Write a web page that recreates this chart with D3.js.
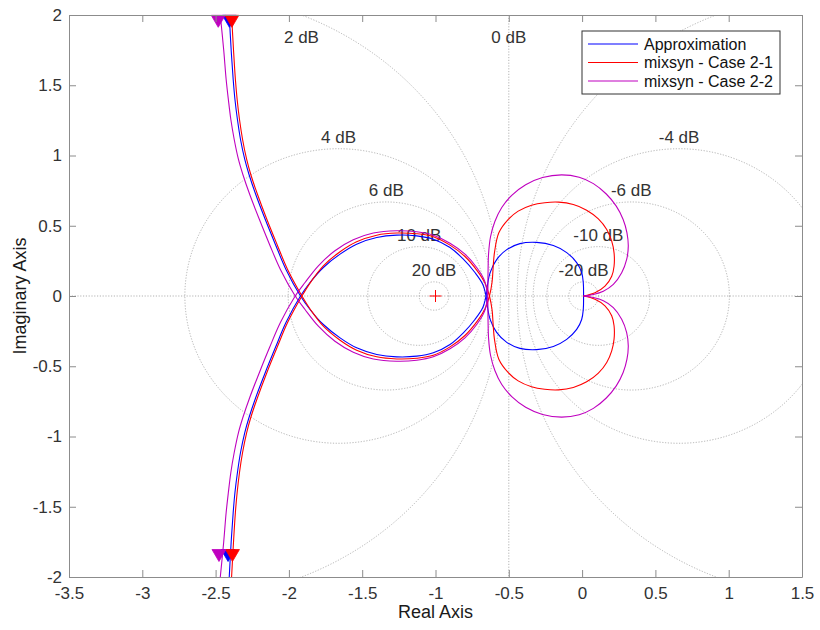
<!DOCTYPE html>
<html>
<head>
<meta charset="utf-8">
<script src="https://cdn.jsdelivr.net/npm/d3@7"></script>
<style>
  body { margin: 0; background: #fff; }
  text { font-family: Helvetica, Arial, "Liberation Sans", sans-serif; }
</style>
</head>
<body>
<div id="chart"></div>
<script>
// Nyquist branches (Re, Im), traced from the top-left asymptote down to the origin.
// The conjugate branch (negative frequencies) is drawn as the mirror image.
const approxBranch = [
  [-2.407, 2.0], [-2.394, 1.754], [-2.380, 1.541], [-2.368, 1.399], [-2.351, 1.256],
  [-2.330, 1.114], [-2.301, 0.972], [-2.272, 0.865], [-2.226, 0.722], [-2.161, 0.544],
  [-2.092, 0.367], [-2.020, 0.189], [-1.921, 0.0],
  [-1.856, -0.096], [-1.765, -0.203], [-1.651, -0.298], [-1.538, -0.369], [-1.401, -0.416],
  [-1.265, -0.433], [-1.128, -0.428], [-1.015, -0.404], [-0.901, -0.345], [-0.810, -0.262],
  [-0.731, -0.167], [-0.678, -0.084], [-0.655, 0.0], [-0.645, 0.080], [-0.628, 0.165],
  [-0.583, 0.259], [-0.514, 0.330], [-0.424, 0.373], [-0.310, 0.382], [-0.196, 0.359],
  [-0.105, 0.309], [-0.037, 0.238], [-0.003, 0.167], [0.008, 0.096], [0.010, 0.0]
];
const case21Branch = [
  [-2.391, 2.0], [-2.378, 1.754], [-2.365, 1.541], [-2.353, 1.399], [-2.337, 1.256],
  [-2.316, 1.114], [-2.288, 0.972], [-2.260, 0.865], [-2.214, 0.722], [-2.150, 0.544],
  [-2.081, 0.367], [-2.009, 0.189], [-1.911, 0.0],
  [-1.850, -0.101], [-1.765, -0.215], [-1.651, -0.315], [-1.538, -0.386], [-1.401, -0.433],
  [-1.265, -0.448], [-1.128, -0.443], [-1.015, -0.422], [-0.901, -0.362], [-0.799, -0.281],
  [-0.715, -0.179], [-0.662, -0.091], [-0.632, 0.0], [-0.614, 0.100], [-0.607, 0.200],
  [-0.598, 0.307], [-0.568, 0.450], [-0.505, 0.544], [-0.436, 0.604], [-0.345, 0.646],
  [-0.255, 0.664], [-0.160, 0.668], [-0.060, 0.651], [0.031, 0.611], [0.111, 0.549],
  [0.168, 0.473], [0.202, 0.390], [0.218, 0.307], [0.218, 0.212], [0.202, 0.141],
  [0.156, 0.070], [0.088, 0.023], [0.010, 0.0]
];
const case22Branch = [
  [-2.468, 2.0], [-2.445, 1.754], [-2.428, 1.541], [-2.413, 1.399], [-2.396, 1.256],
  [-2.373, 1.114], [-2.344, 0.972], [-2.314, 0.865], [-2.267, 0.722], [-2.201, 0.544],
  [-2.132, 0.367], [-2.058, 0.189], [-1.957, 0.0],
  [-1.890, -0.096], [-1.799, -0.215], [-1.686, -0.322], [-1.561, -0.400], [-1.424, -0.448],
  [-1.265, -0.464], [-1.128, -0.457], [-1.015, -0.433], [-0.901, -0.376], [-0.799, -0.298],
  [-0.719, -0.203], [-0.665, -0.108], [-0.645, 0.0], [-0.642, 0.150], [-0.638, 0.300],
  [-0.625, 0.420], [-0.595, 0.530], [-0.548, 0.630], [-0.478, 0.718], [-0.385, 0.792],
  [-0.270, 0.843], [-0.140, 0.862], [-0.020, 0.845], [0.077, 0.800], [0.165, 0.726],
  [0.233, 0.640], [0.280, 0.545], [0.306, 0.450], [0.315, 0.355], [0.304, 0.260],
  [0.270, 0.165], [0.213, 0.082], [0.145, 0.034], [0.077, 0.011], [0.010, 0.0]
];

const seriesNames = ["Approximation", "mixsyn - Case 2-1", "mixsyn - Case 2-2"];
const seriesColors = ["#0000ff", "#ff0000", "#bf00bf"];
const seriesBranches = [approxBranch, case21Branch, case22Branch];

// Direction arrows (one on each branch)
const arrowTop = [[-2.406, 1.955], [-2.389, 1.955], [-2.482, 1.955]];
const arrowBottom = [[-2.415, -1.847], [-2.385, -1.847], [-2.477, -1.847]];

// Constant closed-loop magnitude contours (M-circles), in dB
const gridDb = [-20, -10, -6, -4, -2, 0, 2, 4, 6, 10, 20];
// Contours whose label is shown (the -2 dB label sits under the legend)
const labelledDb = [-20, -10, -6, -4, 0, 2, 4, 6, 10, 20];

const xTicks = [-3.5, -3, -2.5, -2, -1.5, -1, -0.5, 0, 0.5, 1, 1.5];
const yTicks = [-2, -1.5, -1, -0.5, 0, 0.5, 1, 1.5, 2];

const W = 820, H = 630;
const plot = { left: 69, right: 802, top: 15, bottom: 577 };

const x = d3.scaleLinear().domain([-3.5, 1.5]).range([plot.left, plot.right]);
const y = d3.scaleLinear().domain([-2, 2]).range([plot.bottom, plot.top]);

const svg = d3.select("#chart").append("svg")
  .attr("width", W).attr("height", H)
  .style("display", "block");

svg.append("defs").append("clipPath").attr("id", "plotClip")
  .append("rect")
  .attr("x", plot.left).attr("y", plot.top)
  .attr("width", plot.right - plot.left).attr("height", plot.bottom - plot.top);

// ---- M-circle grid ----
const gridG = svg.append("g").attr("clip-path", "url(#plotClip)")
  .attr("fill", "none").attr("stroke", "#a0a0a0")
  .attr("stroke-width", 0.8).attr("stroke-dasharray", "1.2,1.6");

gridG.append("line")
  .attr("x1", plot.left).attr("x2", plot.right)
  .attr("y1", y(0)).attr("y2", y(0));

const circles = gridDb.map(db => {
  const M = Math.pow(10, db / 20);
  if (db === 0) return { db, line: true, c: -0.5, r: Infinity };
  const M2 = M * M;
  return { db, line: false, c: -M2 / (M2 - 1), r: Math.abs(M / (M2 - 1)) };
});

circles.forEach(d => {
  if (d.line) {
    gridG.append("line").attr("x1", x(d.c)).attr("x2", x(d.c))
      .attr("y1", plot.top).attr("y2", plot.bottom);
  } else {
    gridG.append("ellipse")
      .attr("cx", x(d.c)).attr("cy", y(0))
      .attr("rx", x(d.c + d.r) - x(d.c))
      .attr("ry", y(0) - y(d.r));
  }
});

// ---- Critical point ----
svg.append("path")
  .attr("d", `M${x(-1) - 6},${y(0)}H${x(-1) + 6}M${x(-1)},${y(0) - 6}V${y(0) + 6}`)
  .attr("stroke", "#ff0000").attr("stroke-width", 1).attr("fill", "none");

// ---- Grid labels ----
const yMax = y.domain()[1];
const labelG = svg.append("g").attr("font-size", 17).attr("fill", "#333")
  .attr("text-anchor", "middle");
circles.filter(d => labelledDb.includes(d.db)).forEach(d => {
  let lx, ly;
  if (d.line) {
    lx = x(d.c); ly = y(yMax) + 28;
  } else if (d.r < yMax) {
    lx = x(d.c); ly = y(d.r) - 6;
  } else {
    const dx = Math.sqrt(d.r * d.r - yMax * yMax);
    const cand = [d.c - dx, d.c + dx].filter(v => v >= -3.5 && v <= 1.5);
    lx = x(cand[0]); ly = y(yMax) + 28;
  }
  labelG.append("text").attr("x", lx).attr("y", ly).text(`${d.db} dB`);
});

// ---- Nyquist curves ----
const line = d3.line()
  .x(d => x(d[0])).y(d => y(d[1]))
  .curve(d3.curveCatmullRom.alpha(0.5));

const curveG = svg.append("g").attr("clip-path", "url(#plotClip)").attr("fill", "none");
seriesBranches.forEach((branch, i) => {
  const mirror = branch.map(p => [p[0], -p[1]]);
  [branch, mirror].forEach(b => {
    curveG.append("path").attr("d", line(b))
      .attr("stroke", seriesColors[i]).attr("stroke-width", 1.1);
  });
});

// ---- Direction arrows (pointing down) ----
const tri = "M-7,-6L7,-6L0,6Z";
const arrowG = svg.append("g");
seriesColors.forEach((col, i) => {
  [arrowTop[i], arrowBottom[i]].forEach(p => {
    arrowG.append("path").attr("d", tri)
      .attr("transform", `translate(${x(p[0])},${y(p[1])})`)
      .attr("fill", col).attr("stroke", col).attr("stroke-width", 0.8);
  });
});

// ---- Axes ----
const fmt = d => String(d);
const axisColor = "#8c8c8c";
const textColor = "#333";

function styleAxis(g) {
  g.select(".domain").attr("stroke", axisColor);
  g.selectAll(".tick line").attr("stroke", axisColor);
  g.selectAll(".tick text").attr("fill", textColor)
    .style("font-family", "Helvetica, Arial, 'Liberation Sans', sans-serif");
  g.attr("font-size", 17);
}

svg.append("g").attr("transform", `translate(0,${plot.bottom})`)
  .call(d3.axisBottom(x).tickValues(xTicks).tickFormat(fmt)
    .tickSizeInner(-7).tickSizeOuter(0).tickPadding(10))
  .call(styleAxis);
svg.append("g").attr("transform", `translate(${plot.left},0)`)
  .call(d3.axisLeft(y).tickValues(yTicks).tickFormat(fmt)
    .tickSizeInner(-7).tickSizeOuter(0).tickPadding(7))
  .call(styleAxis);
svg.append("g").attr("transform", `translate(0,${plot.top})`)
  .call(d3.axisTop(x).tickValues(xTicks).tickFormat("")
    .tickSizeInner(-7).tickSizeOuter(0))
  .call(styleAxis);
svg.append("g").attr("transform", `translate(${plot.right},0)`)
  .call(d3.axisRight(y).tickValues(yTicks).tickFormat("")
    .tickSizeInner(-7).tickSizeOuter(0))
  .call(styleAxis);

// ---- Axis titles ----
svg.append("text")
  .attr("x", (plot.left + plot.right) / 2).attr("y", 618)
  .attr("text-anchor", "middle").attr("font-size", 18).attr("fill", "#1a1a1a")
  .text("Real Axis");
svg.append("text")
  .attr("transform", `translate(26,${(plot.top + plot.bottom) / 2}) rotate(-90)`)
  .attr("text-anchor", "middle").attr("font-size", 18).attr("fill", "#1a1a1a")
  .text("Imaginary Axis");

// ---- Legend ----
const lg = svg.append("g").attr("transform", "translate(582,31)");
lg.append("rect").attr("width", 198).attr("height", 63)
  .attr("fill", "#fff").attr("stroke", "#333").attr("stroke-width", 1);
seriesNames.forEach((name, i) => {
  const ry = 13 + i * 18.5;
  lg.append("line").attr("x1", 6).attr("x2", 56).attr("y1", ry).attr("y2", ry)
    .attr("stroke", seriesColors[i]).attr("stroke-width", 1.1);
  lg.append("text").attr("x", 62).attr("y", ry).attr("dy", "0.35em")
    .attr("font-size", 16).attr("fill", "#111").text(name);
});
</script>
</body>
</html>
